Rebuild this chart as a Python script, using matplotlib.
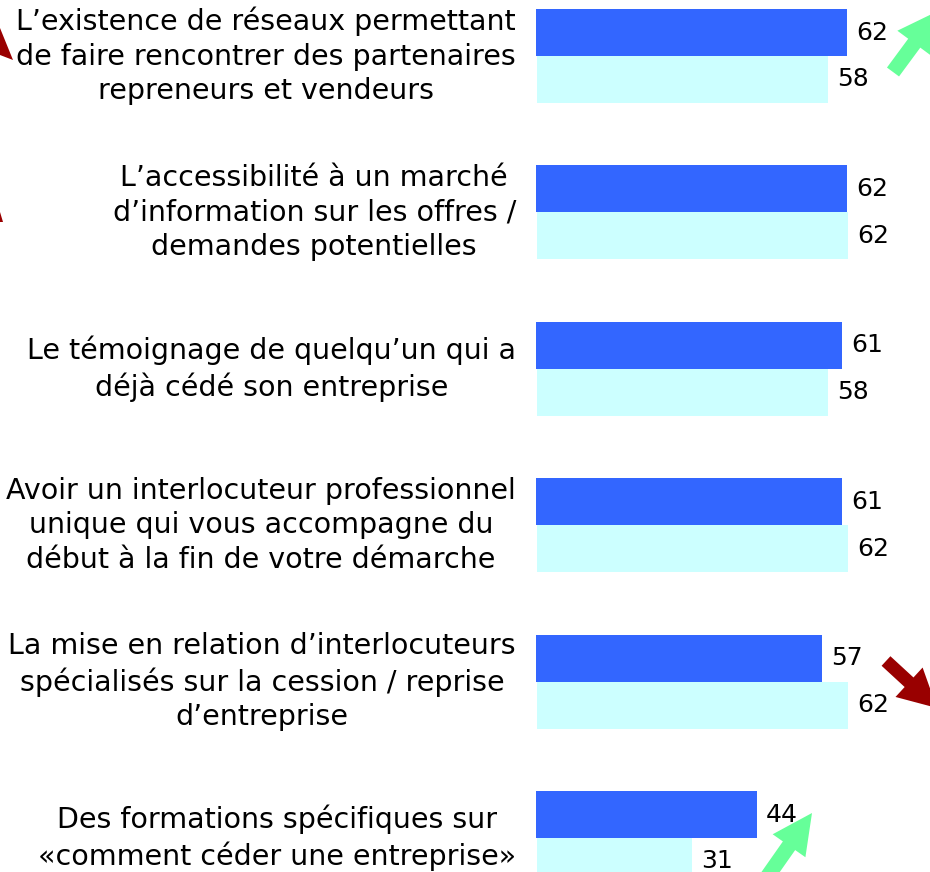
import numpy as np
import matplotlib
matplotlib.use("Agg")
from matplotlib import pyplot as plt
from matplotlib.patches import FancyArrow, Polygon
from matplotlib.transforms import IdentityTransform

# Data
labels = [
    "L\u2019existence de réseaux permettant\nde faire rencontrer des partenaires\nrepreneurs et vendeurs",
    "L\u2019accessibilité à un marché\nd\u2019information sur les offres /\ndemandes potentielles",
    "Le témoignage de quelqu\u2019un qui a\ndéjà cédé son entreprise",
    "Avoir un interlocuteur professionnel\nunique qui vous accompagne du\ndébut à la fin de votre démarche",
    "La mise en relation d\u2019interlocuteurs\nspécialisés sur la cession / reprise\nd\u2019entreprise",
    "Des formations spécifiques sur\n«comment céder une entreprise»",
]
current = [62, 62, 61, 61, 57, 44]
previous = [58, 62, 58, 62, 62, 31]

dark = "#3366FF"
light = "#CCFFFF"
green = "#66FF99"
red = "#990000"

W, H = 930, 872
fig = plt.figure(figsize=(W / 100, H / 100), dpi=100)
ax = fig.add_axes([0, 0, 1, 1])

px = 5.016          # pixels per unit
x0 = 536            # pixel where bars start
gap = 156.4         # pixels between groups
y0 = 56             # pixel of first group centre
ax.set_xlim(-x0 / px, (W - x0) / px)
ax.set_ylim((H - y0) / gap, -y0 / gap)
ax.axis("off")

y = np.arange(len(labels))
h = 0.30
ax.barh(y - h / 2, current, height=h, color=dark)
ax.barh(y + h / 2, previous, height=h, color=light, left=0.2)

for i in range(len(labels)):
    ax.text(-4, y[i], labels[i], ha="right", va="center", fontsize=20.5,
            linespacing=1.30, multialignment="center", color="black")
    ax.text(current[i] + 1.8, y[i] - h / 2, str(current[i]), ha="left",
            va="center", fontsize=18, color="black")
    ax.text(previous[i] + 2.0, y[i] + h / 2, str(previous[i]), ha="left",
            va="center", fontsize=18, color="black")


# decorative trend arrows (pixel coords, y from top)
def arrow(xt, yt, xh, yh, color, width=15, hw=42, hl=40):
    a = FancyArrow(xt, H - yt, xh - xt, -(yh - yt), width=width,
                   head_width=hw, head_length=hl, length_includes_head=True,
                   color=color, lw=0, transform=IdentityTransform())
    fig.patches.append(a)


arrow(893, 72, 938, 11, green)
arrow(886, 661, 937, 708, red, width=13, hw=40, hl=38)
arrow(758, 890, 812, 813, green, hw=40)

for pts in ([(0, 28), (13, 60), (0, 55)], [(0, 212), (3, 222), (0, 222)]):
    fig.patches.append(Polygon([(x, H - yy) for x, yy in pts], closed=True,
                               color=red, lw=0, transform=IdentityTransform()))

fig.savefig("out.png", dpi=100)
